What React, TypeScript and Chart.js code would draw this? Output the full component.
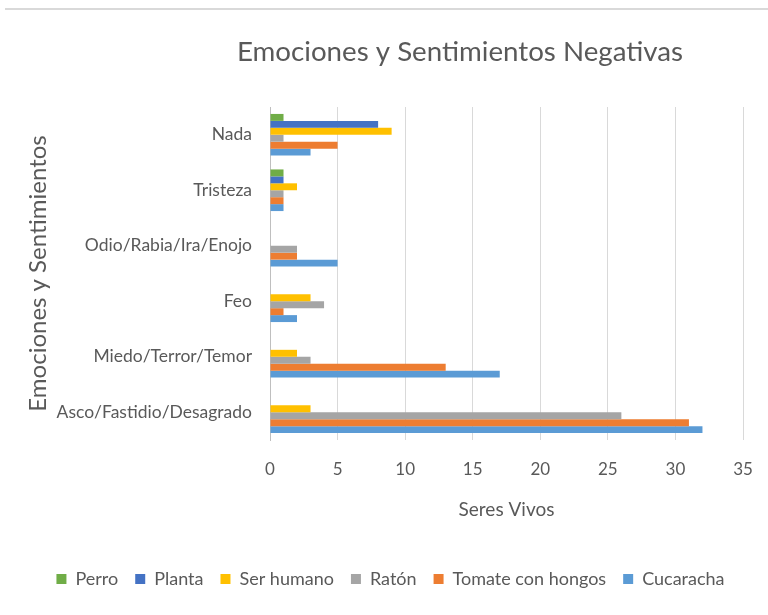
import React, { useEffect, useRef } from "react";
import { Chart, registerables } from "chart.js";

Chart.register(...registerables);

const categories = [
  "Nada",
  "Tristeza",
  "Odio/Rabia/Ira/Enojo",
  "Feo",
  "Miedo/Terror/Temor",
  "Asco/Fastidio/Desagrado",
];
const perro = [1, 1, 0, 0, 0, 0];
const planta = [8, 1, 0, 0, 0, 0];
const serHumano = [9, 2, 0, 3, 2, 3];
const raton = [1, 1, 2, 4, 3, 26];
const tomate = [5, 1, 2, 1, 13, 31];
const cucaracha = [3, 1, 5, 2, 17, 32];

const chartTitle = "Emociones y Sentimientos Negativas";
const xTitle = "Seres Vivos";
const yTitle = "Emociones y Sentimientos";

const FONT = "Lato, 'Open Sans', sans-serif";
const TEXT = "#595959";

const decorPlugin = {
  id: "decor",
  afterDraw(chart: any) {
    const ctx = chart.ctx;
    ctx.save();
    ctx.strokeStyle = "#d9d9d9";
    ctx.lineWidth = 2;
    ctx.beginPath();
    ctx.moveTo(5, 9);
    ctx.lineTo(768, 9);
    ctx.stroke();
    ctx.fillStyle = TEXT;
    ctx.font = `27.7px ${FONT}`;
    ctx.textAlign = "center";
    ctx.textBaseline = "middle";
    ctx.fillText(chartTitle, 460, 52);
    ctx.restore();
  },
};

export default function App() {
  const ref = useRef<HTMLCanvasElement | null>(null);
  useEffect(() => {
    if (!ref.current) return;
    const chart = new Chart(ref.current, {
      type: "bar",
      data: {
        labels: categories,
        datasets: [
          { label: "Perro", data: perro, backgroundColor: "#70AD47" },
          { label: "Planta", data: planta, backgroundColor: "#4472C4" },
          { label: "Ser humano", data: serHumano, backgroundColor: "#FFC000" },
          { label: "Ratón", data: raton, backgroundColor: "#A5A5A5" },
          { label: "Tomate con hongos", data: tomate, backgroundColor: "#ED7D31" },
          { label: "Cucaracha", data: cucaracha, backgroundColor: "#5B9BD5" },
        ],
      },
      options: {
        indexAxis: "y",
        responsive: false,
        animation: false,
        datasets: { bar: { categoryPercentage: 0.75, barPercentage: 1, borderWidth: 0 } },
        layout: { padding: { top: 107, right: 25, bottom: 17, left: 38 } },
        plugins: {
          title: { display: false },
          tooltip: { enabled: false },
          legend: {
            position: "bottom",
            labels: {
              boxWidth: 10,
              boxHeight: 10,
              padding: 17,
              color: TEXT,
              font: { family: FONT, size: 18 },
            },
          },
        },
        scales: {
          x: {
            min: 0,
            max: 35,
            ticks: { stepSize: 5, color: TEXT, font: { family: FONT, size: 17 }, padding: 3 },
            grid: { color: "#d9d9d9", drawTicks: true, tickLength: 16, tickColor: "rgba(0,0,0,0)" },
            border: { display: false },
            title: {
              display: true,
              text: xTitle,
              color: TEXT,
              font: { family: FONT, size: 19 },
              padding: { top: 0, bottom: 32 },
            },
            afterFit: (s: any) => {
              s.height = 113;
            },
          },
          y: {
            ticks: { color: TEXT, font: { family: FONT, size: 17.5 }, padding: 18 },
            grid: { display: false, drawTicks: false },
            border: { display: true, color: "#bfbfbf" },
            title: {
              display: true,
              text: yTitle,
              color: TEXT,
              font: { family: FONT, size: 24 },
              padding: { top: -14, bottom: 0 },
            },
            afterFit: (s: any) => {
              s.width = 232;
            },
          },
        },
      },
      plugins: [decorPlugin],
    } as any);
    return () => chart.destroy();
  }, []);
  return (
    <div style={{ position: "absolute", left: 0, top: 0, width: 768, height: 615 }}>
      <canvas ref={ref} width={768} height={615} />
    </div>
  );
}
